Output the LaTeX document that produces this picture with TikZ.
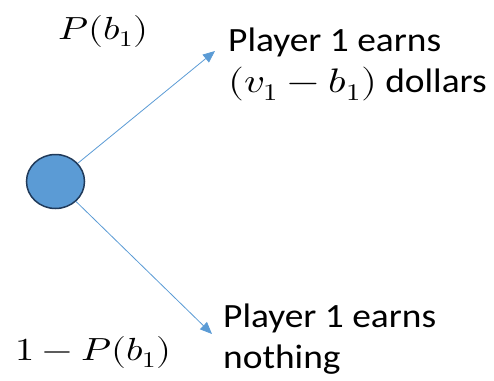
\documentclass[tikz,border=0pt]{standalone}
\usepackage{fontspec}
\usepackage{unicode-math}
\setmainfont{Carlito}[FakeStretch=1.1]
\setmathfont{Latin Modern Math}
\usetikzlibrary{shapes.geometric,arrows.meta}
\definecolor{fillblue}{HTML}{5B9BD5}
\definecolor{edgenavy}{HTML}{203A5A}
\definecolor{linkblue}{HTML}{5B9BD5}
\newcommand{\wm}[1]{\scalebox{1.2}[1]{$#1$}}
\tikzset{
  txt/.style={anchor=base west,inner sep=0pt,font=\fontsize{34}{40}\selectfont},
  mth/.style={anchor=base west,inner sep=0pt,font=\fontsize{32}{40}\selectfont},
  link/.style={draw=linkblue,line width=0.8pt,-{Triangle[length=12pt,width=10pt]}},
}
\begin{document}
\begin{tikzpicture}[x=1pt,y=-1pt]
\useasboundingbox (0,0) rectangle (494,380);
\node[ellipse,draw=edgenavy,fill=fillblue,line width=1.5pt,minimum width=58pt,minimum height=54pt,inner sep=0pt] (c) at (55.5,181.5) {};
\coordinate (t1) at (215,51);
\coordinate (t2) at (212,334);
\draw[link] (c) -- (t1);
\draw[link] (c) -- (t2);
\node[mth] (p1) at (58,39) {\wm{P(b_1)}};
\node[txt] (a1) at (228,51) {Player 1 earns};
\node[txt] (a2) at (228,92) {\wm{(v_1-b_1)} dollars};
\node[mth] (p2) at (15,360) {\wm{1-P(b_1)}};
\node[txt] (b1) at (223,327) {Player 1 earns};
\node[txt] (b2) at (223,368) {nothing};
\end{tikzpicture}
\end{document}
